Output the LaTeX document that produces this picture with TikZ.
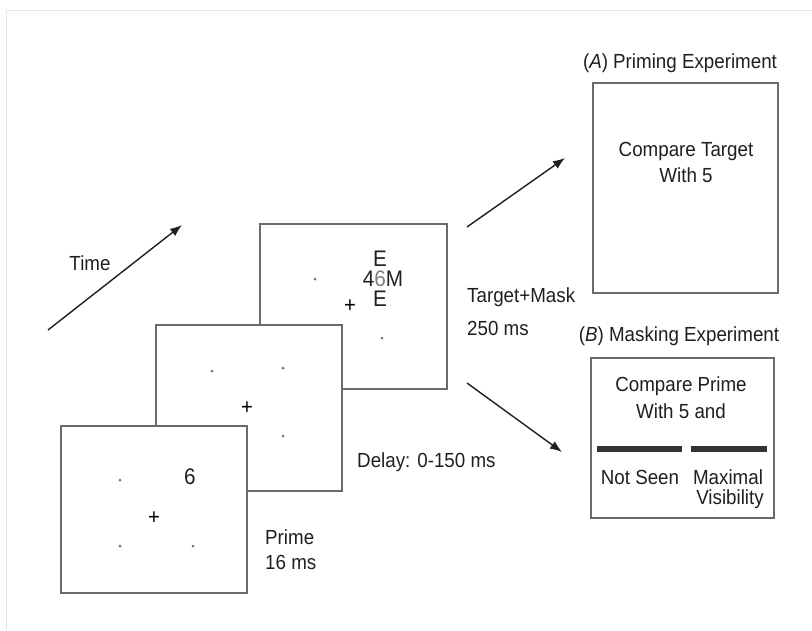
\documentclass[tikz,border=0pt]{standalone}
\usepackage{fontspec}
\setmainfont{Liberation Sans}[FakeStretch=0.92]
\usetikzlibrary{arrows.meta}
\definecolor{framegray}{HTML}{6A6A6A}
\definecolor{pagegray}{HTML}{E6E6E6}
\definecolor{barcol}{HTML}{333333}
\definecolor{dotgray}{HTML}{707070}
\begin{document}
\begin{tikzpicture}[x=1pt,y=-1pt,
  screen/.style={draw=framegray, line width=1.7pt, fill=white, inner sep=0pt, anchor=north west},
  lbl/.style={font=\fontsize{20.4}{24}\selectfont, inner sep=0pt, text=black!88},
  stim/.style={font=\fontsize{22.5}{20}\selectfont, inner sep=0pt, text=black!88},
  dotm/.style={circle, fill=dotgray, inner sep=0pt, minimum size=3pt},
  fix/.style={font=\fontsize{22}{24}\selectfont, inner sep=0pt},
  arr/.style={-{Latex[length=12pt,width=9pt]}, line width=1.4pt, black!88}]
\useasboundingbox (0,0) rectangle (812,630);
% page frame
\draw[pagegray, line width=1pt] (6,630) -- (6,10) -- (812,10);

% Target + mask screen
\node[screen, minimum width=187pt, minimum height=165pt] (s3) at (259,223) {};
\node[dotm] (d31) at (315,279) {};
\node[dotm] (d32) at (382,338) {};
\node[fix] (f3) at (350,306) {+};
\node[stim, align=center] (m3) at (383,279)
  {\phantom{4}E\phantom{M}\\4\textcolor{gray}{6}M\\\phantom{4}E\phantom{M}};

% Delay screen
\node[screen, minimum width=186pt, minimum height=166pt] (s2) at (155,324) {};
\node[dotm] (d21) at (212,371) {};
\node[dotm] (d22) at (283,368) {};
\node[dotm] (d23) at (283,436) {};
\node[fix] (f2) at (247,408) {+};

% Prime screen
\node[screen, minimum width=186pt, minimum height=167pt] (s1) at (60,425) {};
\node[dotm] (d11) at (120,480) {};
\node[dotm] (d12) at (120,546) {};
\node[dotm] (d13) at (193,546) {};
\node[stim] (six) at (190,477) {6};
\node[fix] (f1) at (154,518) {+};

% labels
\node[lbl, anchor=west] (prime) at (265,537) {Prime};
\node[lbl, anchor=west] (pms) at (265,562) {16 ms};
\node[lbl, anchor=west] (delay) at (357,462) {Delay: 0-150 ms};
\node[lbl, anchor=west] (tm) at (467,297) {Target+Mask};
\node[lbl, anchor=west] (tms) at (467,328) {250 ms};

% time arrow
\coordinate (t0) at (48,330);
\coordinate (t1) at (182,225);
\draw[arr] (t0) -- (t1);
\node[lbl] (time) at (90,263) {Time};

% outcome arrows
\coordinate (a0) at (467,227);
\coordinate (a1) at (565,158);
\coordinate (b0) at (467,383);
\coordinate (b1) at (562,452);
\draw[arr] (a0) -- (a1);
\draw[arr] (b0) -- (b1);

% (A) Priming
\node[lbl] (ta) at (680,63) {(\textit{A}) Priming Experiment};
\node[screen, minimum width=185pt, minimum height=210pt] (boxA) at (592,82) {};
\node[lbl] (ca1) at (686,151) {Compare Target};
\node[lbl] (ca2) at (686,175) {With 5};

% (B) Masking
\node[lbl] (tb) at (679,336) {(\textit{B}) Masking Experiment};
\node[screen, minimum width=183pt, minimum height=160pt] (boxB) at (590,357) {};
\node[lbl] (cb1) at (681,386) {Compare Prime};
\node[lbl] (cb2) at (681,411) {With 5 and};
\draw[barcol, line width=6pt] (597,449) -- (682,449);
\draw[barcol, line width=6pt] (691,449) -- (767,449);
\node[lbl] (ns) at (640,477) {Not Seen};
\node[lbl] (mx) at (728,477) {Maximal};
\node[lbl] (vis) at (730,499) {Visibility};
\end{tikzpicture}
\end{document}
